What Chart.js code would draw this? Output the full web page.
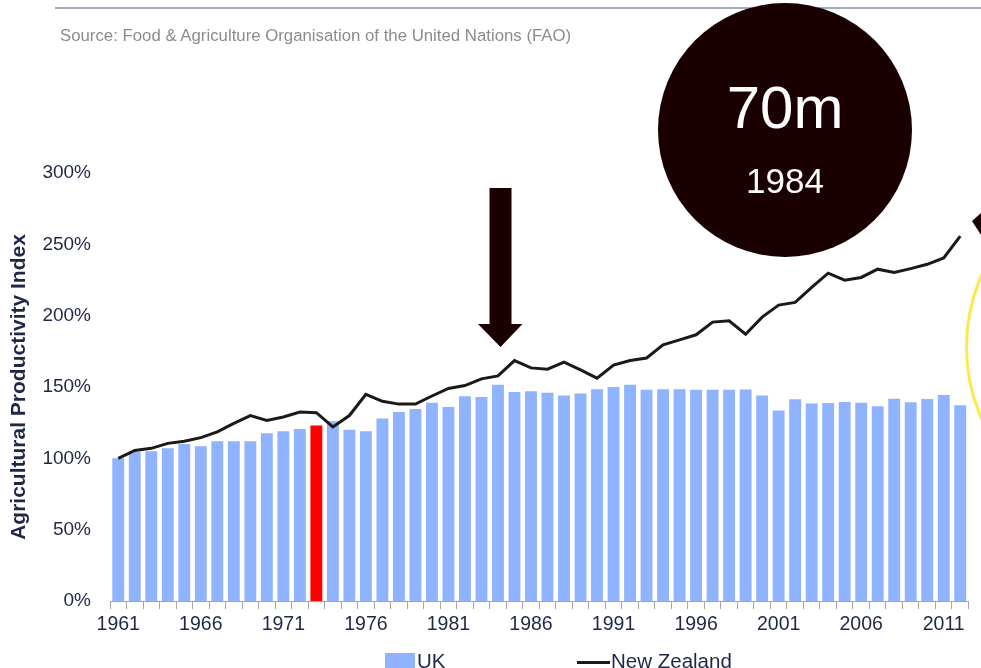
<!DOCTYPE html>
<html>
<head>
<meta charset="utf-8">
<script src="https://cdn.jsdelivr.net/npm/chart.js@4.4.0/dist/chart.umd.min.js"></script>
<style>
  html, body { margin: 0; padding: 0; background: #fff; overflow: hidden; }
  #wrap { position: relative; width: 981px; height: 668px; font-family: Arial, "Liberation Sans", sans-serif; }
  #myChart { position: absolute; left: 0; top: 0; }
  .txt { position: absolute; white-space: nowrap; line-height: 1; }
  #source { left: 60px; top: 28px; font-size: 16.8px; color: #8c8c8c; }
  #big { left: 685px; width: 200px; text-align: center; top: 78px; font-size: 60px; color: #fff; }
  #year { left: 685px; width: 200px; text-align: center; top: 163px; font-size: 35px; color: #fff; }
  .leg { font-size: 20.5px; color: #1f2747; top: 651px; }
  .box { position: absolute; left: 385px; top: 653px; width: 30px; height: 15px; background: #8fb3ff; }
  .ln { position: absolute; left: 577px; top: 661px; width: 33px; height: 3px; background: #1c1a14; }
</style>
</head>
<body>
<div id="wrap">
  <canvas id="myChart" width="981" height="668"></canvas>
  <div class="txt" id="source">Source: Food &amp; Agriculture Organisation of the United Nations (FAO)</div>
  <div class="txt" id="big">70m</div>
  <div class="txt" id="year">1984</div>
  <div class="box"></div>
  <div class="txt leg" style="left:417px">UK</div>
  <div class="ln"></div>
  <div class="txt leg" style="left:611px">New Zealand</div>
</div>
<script>
// años 1961 - 2012
const years = [
  "1961","1962","1963","1964","1965","1966","1967","1968","1969","1970","1971","1972","1973",
  "1974","1975","1976","1977","1978","1979","1980","1981","1982","1983","1984","1985","1986",
  "1987","1988","1989","1990","1991","1992","1993","1994","1995","1996","1997","1998","1999",
  "2000","2001","2002","2003","2004","2005","2006","2007","2008","2009","2010","2011","2012"
];

// índice de productividad (%)
const ukValues = [
  100, 104.5, 105, 107, 110, 108.5, 112, 112, 112, 117.5, 119, 120.5, 123,
  126, 120, 119, 128, 132.5, 134.5, 139, 136, 143.5, 143, 151.5, 146.5, 147,
  146, 144, 145.5, 148.5, 150, 151.5, 148, 148.5, 148.5, 148, 148, 148, 148.3,
  144, 133.5, 141.5, 138.5, 138.7, 139.5, 139, 136.5, 141.8, 139.3, 141.6, 144.4, 137.2
];

const nzValues = [
  100, 105.5, 107, 110.5, 112, 114.5, 118.5, 124.5, 130, 126.5, 129, 132.5, 132,
  122, 130, 144.8, 140, 138, 138, 143.7, 149, 151, 155.7, 157.8, 168.5, 163.4,
  162.5, 167.4, 162, 156.2, 165.3, 168.6, 170.3, 179.6, 183, 186.6, 195.5, 196.4, 187,
  199, 207.4, 209.3, 219.8, 229.8, 224.9, 226.8, 232.6, 230.2, 233, 236, 240.5, 255.8
];

const yTicks = [0, 50, 100, 150, 200, 250, 300];
const highlightYear = "1973";

const dark = "#1a0000";
const navy = "#1f2747";
const fontFam = "Arial, 'Liberation Sans', sans-serif";

// dibujos extra: línea superior, círculo, flecha, arco amarillo
const extras = {
  id: "extras",
  afterDraw(chart) {
    const c = chart.ctx;
    c.save();
    c.strokeStyle = "#a3acbe";
    c.lineWidth = 2;
    c.beginPath();
    c.moveTo(55, 8);
    c.lineTo(981, 8);
    c.stroke();

    c.fillStyle = dark;
    c.beginPath();
    c.arc(785, 130, 127, 0, Math.PI * 2);
    c.fill();

    // flecha hacia abajo
    c.beginPath();
    c.moveTo(489.5, 188);
    c.lineTo(511.5, 188);
    c.lineTo(511.5, 324);
    c.lineTo(522.5, 324);
    c.lineTo(500.5, 347);
    c.lineTo(478, 324);
    c.lineTo(489.5, 324);
    c.closePath();
    c.fill();

    // punta cortada a la derecha
    c.beginPath();
    c.moveTo(972, 221);
    c.lineTo(981, 213);
    c.lineTo(981, 235);
    c.closePath();
    c.fill();

    c.strokeStyle = "#fde84e";
    c.lineWidth = 3;
    c.beginPath();
    c.arc(1145, 347, 178.5, 0, Math.PI * 2);
    c.stroke();
    c.restore();
  }
};

document.addEventListener("DOMContentLoaded", () => {
  const ctx = document.getElementById("myChart").getContext("2d");

  new Chart(ctx, {
    data: {
      labels: years,
      datasets: [
        {
          type: "line",
          label: "New Zealand",
          data: nzValues,
          borderColor: "#1c1a14",
          borderWidth: 3,
          pointRadius: 0,
          tension: 0,
          fill: false,
          order: 0
        },
        {
          type: "bar",
          label: "UK",
          data: ukValues,
          backgroundColor: years.map(y => (y === highlightYear ? "#ff0000" : "#8fb3ff")),
          barPercentage: 0.72,
          categoryPercentage: 1,
          order: 1
        }
      ]
    },
    options: {
      responsive: false,
      animation: false,
      layout: { padding: { top: 173, right: 12.5, left: 0, bottom: 0 } },
      plugins: {
        legend: { display: false },
        tooltip: { enabled: false }
      },
      scales: {
        x: {
          offset: true,
          grid: {
            display: true,
            drawOnChartArea: false,
            offset: true,
            tickLength: 8,
            color: "#a6a6a6"
          },
          border: { display: true, color: "#a6a6a6" },
          ticks: {
            autoSkip: false,
            maxRotation: 0,
            padding: 4,
            color: navy,
            font: { family: fontFam, size: 19.5 },
            callback: (v, i) => (i % 5 === 0 ? years[i] : "")
          },
          afterFit: s => { s.height = 67; }
        },
        y: {
          min: 0,
          max: 300,
          afterBuildTicks: s => { s.ticks = yTicks.map(v => ({ value: v })); },
          grid: { display: false, drawTicks: false },
          border: { display: false },
          ticks: {
            padding: 19,
            color: navy,
            font: { family: fontFam, size: 19 },
            callback: v => v + "%"
          },
          title: {
            display: true,
            text: "Agricultural Productivity Index",
            color: navy,
            font: { family: fontFam, size: 21, weight: "bold" },
            padding: { top: 7, bottom: 0 }
          },
          afterFit: s => { s.width = 110; }
        }
      }
    },
    plugins: [extras]
  });
});
</script>
</body>
</html>
